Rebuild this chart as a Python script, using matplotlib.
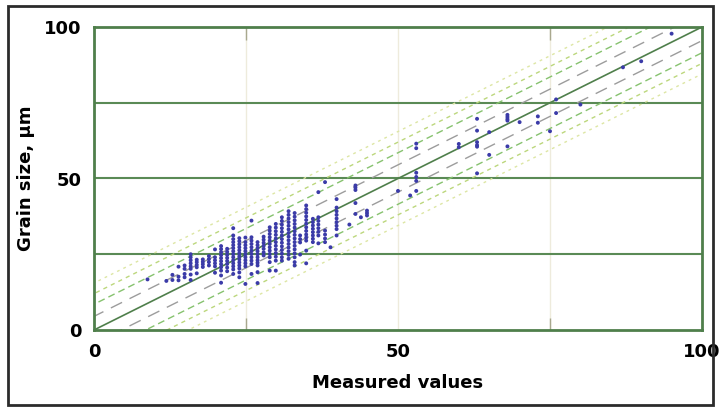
import matplotlib.pyplot as plt
from matplotlib.patches import Rectangle

# measured value (x) for each column of points and the grain sizes in it
col_x = [8.8, 11.9, 12.9, 13.9, 14.9, 15.9, 16.9, 17.9, 18.9, 19.9,
         20.9, 21.9, 22.9, 23.9, 24.9, 25.9, 26.9, 27.9, 28.9, 29.9,
         30.9, 32.0, 33.0, 33.9, 34.9, 36.0, 36.9, 38.0, 38.9, 39.9,
         42.0, 43.0, 43.9, 44.9, 50.0, 52.0, 53.0, 60.0, 63.0, 65.0,
         68.0, 70.0, 73.0, 75.0, 76.0, 80.0, 87.0, 90.0, 95.0]
col_y = [
    [16.7],
    [16.2],
    [18.2, 16.5],
    [20.9, 17.6, 16.4],
    [21.3, 20.2, 18.5, 17.4],
    [25.0, 24.0, 23.0, 22.0, 21.0, 20.2, 18.3, 16.5],
    [23.2, 22.4, 21.5, 20.7, 18.7],
    [23.3, 22.5, 21.7, 20.8],
    [24.4, 23.4, 22.4, 21.3],
    [26.6, 24.0, 23.0, 22.0, 21.0, 18.9],
    [27.7, 26.7, 25.7, 24.7, 23.7, 22.7, 21.7, 20.7, 19.6, 18.0, 15.6],
    [26.8, 25.8, 24.8, 23.8, 22.8, 21.8, 20.6, 19.4],
    [33.6, 31.2, 30.0, 29.0, 28.0, 27.0, 26.0, 25.0, 24.0, 23.0, 22.0,
     21.0, 20.0, 18.5],
    [30.3, 29.3, 28.3, 27.3, 26.3, 25.3, 24.3, 23.3, 22.3, 21.3, 20.3,
     19.0, 17.4],
    [30.5, 29.0, 28.0, 27.0, 26.0, 25.0, 24.0, 23.0, 22.0, 21.0, 15.2],
    [36.1, 30.6, 29.5, 28.4, 27.3, 26.2, 25.1, 24.0, 22.9, 21.8, 18.5],
    [29.0, 28.0, 27.0, 26.0, 25.0, 24.0, 23.0, 22.2, 21.3, 19.1, 15.5],
    [30.8, 29.8, 28.8, 27.8, 26.8, 25.6, 24.6],
    [33.9, 32.8, 31.7, 30.6, 29.5, 28.4, 27.3, 26.2, 25.1, 24.0, 22.4,
     19.6],
    [35.0, 33.8, 32.6, 31.4, 30.2, 29.0, 27.8, 26.6, 25.4, 24.2, 22.9,
     19.6],
    [37.2, 36.0, 34.8, 33.6, 32.4, 31.2, 30.0, 28.8, 27.6, 26.4, 25.2,
     24.0, 22.9],
    [39.2, 38.0, 36.8, 35.6, 34.4, 33.2, 32.0, 30.8, 29.6, 28.4, 27.2,
     26.0, 24.8, 23.5],
    [38.6, 37.4, 36.2, 35.0, 33.8, 32.6, 31.4, 30.2, 29.0, 27.8, 26.6,
     25.3, 24.0, 22.4, 21.3],
    [31.2, 30.0, 28.9, 24.9],
    [41.1, 39.9, 38.7, 37.5, 36.3, 35.1, 33.9, 32.7, 31.5, 30.5, 29.5,
     26.2, 22.0],
    [36.7, 35.6, 34.5, 33.4, 32.3, 31.2, 30.1, 29.0],
    [45.5, 37.2, 36.0, 34.8, 33.6, 32.4, 31.2, 28.6],
    [48.8, 32.8, 31.5, 30.2, 29.0],
    [27.3],
    [43.2, 40.4, 39.2, 38.0, 36.8, 35.6, 34.4, 33.3, 31.2],
    [34.8],
    [47.7, 47.0, 46.2, 41.9, 38.3],
    [37.2],
    [39.4, 38.6, 37.8],
    [45.9],
    [44.4],
    [61.5, 60.0, 51.9, 50.5, 49.2, 45.9],
    [61.4, 60.3],
    [69.7, 65.8, 62.0, 61.0, 60.5, 51.7],
    [65.3, 57.8],
    [71.0, 70.3, 69.6, 69.1, 60.6],
    [68.6],
    [70.5, 68.4],
    [65.6],
    [76.1, 71.6],
    [74.4],
    [86.7],
    [88.7],
    [97.8],
]

# offsets of the parallel band lines from the y = x line
band_offsets = [4.5, 8.5, 12.0, 15.5]
band_colors = ['#9c9c9c', '#86c26e', '#bcd77c', '#dde6a4']
band_dashes = [(9, 6), (5, 3), (3, 3), (2, 3)]

ticks = [0, 50, 100]

xs, ys = [], []
for x, col in zip(col_x, col_y):
    for y in col:
        xs.append(x)
        ys.append(y)

plt.rcParams['font.family'] = ['DejaVu Sans']

fig = plt.figure(figsize=(7.2, 4.11), dpi=100)
ax = fig.add_axes([94 / 720, 1 - 330 / 411, 608 / 720, 303 / 411])

# faint vertical grid, green horizontal grid
for v in [25, 50, 75]:
    ax.axvline(v, color='#eeebdc', lw=1.0, zorder=0)
    ax.axhline(v, color='#5a8a55', lw=1.5, zorder=1)

line_x = [-20, 120]
for off, c, d in zip(band_offsets, band_colors, band_dashes):
    for s in (1, -1):
        ax.plot(line_x, [v + s * off for v in line_x], color=c, lw=1.0,
                dashes=d, zorder=2)
ax.plot(line_x, line_x, color='#4f7f4b', lw=1.2, zorder=3)

ax.scatter(xs, ys, s=8, color='#3b3ba8', edgecolors='none', zorder=4)

ax.set_xlim(0, 100)
ax.set_ylim(0, 100)
ax.set_xticks(ticks)
ax.set_yticks(ticks)
ax.set_xticks([25, 50, 75], minor=True)
ax.tick_params(which='major', length=0, labelsize=13, pad=9)
ax.tick_params(which='minor', axis='x', direction='in', length=9,
               width=1, color='#a9a88e', top=True, bottom=True)
for lab in ax.get_xticklabels() + ax.get_yticklabels():
    lab.set_fontweight('bold')
for sp in ax.spines.values():
    sp.set_color('#4f7f4b')
    sp.set_linewidth(2)

ax.set_xlabel('Measured values', fontsize=13, fontweight='bold', labelpad=10)
ax.set_ylabel('Grain size, µm', fontsize=13, fontweight='bold')
ax.yaxis.set_label_coords(-0.097, 0.5)

# dark frame around the whole picture
fig.patches.append(Rectangle((8 / 720, 6 / 411), 705 / 720, 399 / 411,
                             transform=fig.transFigure, fill=False,
                             edgecolor='#2b2b2b', lw=2))

fig.savefig('out.png', dpi=100)
